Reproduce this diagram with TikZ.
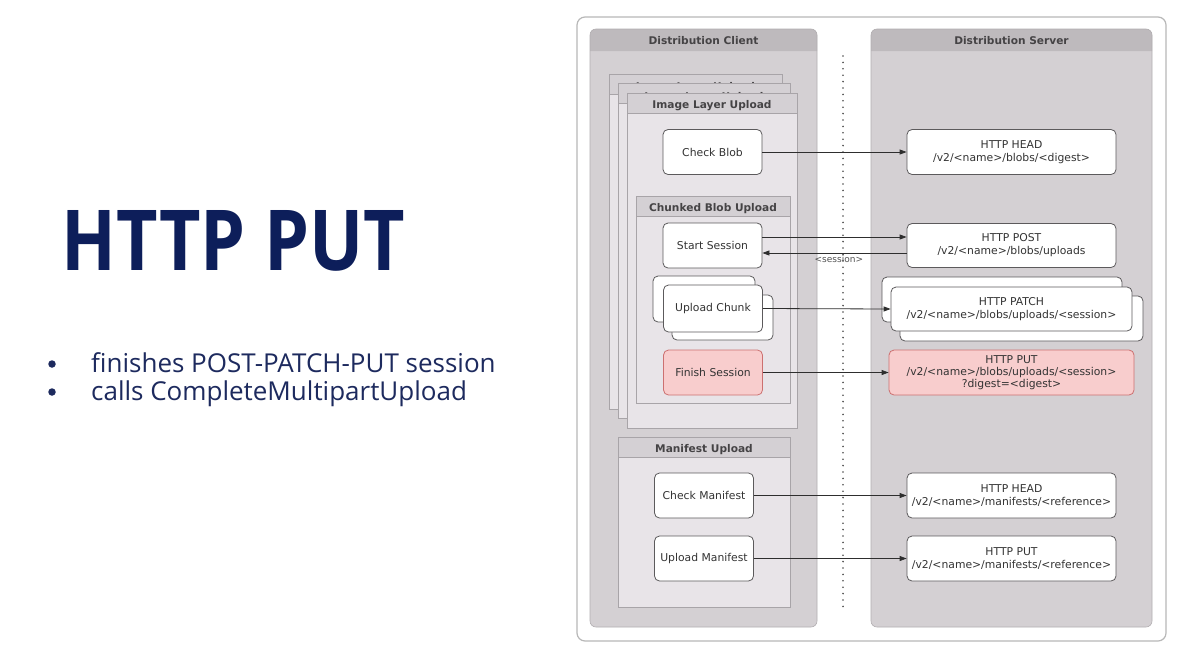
\documentclass[tikz,border=0pt]{standalone}
\usepackage{fontspec}
\usepackage{graphicx}
\setmainfont{DejaVu Sans}
\newfontfamily\slidefont{Open Sans}
\usetikzlibrary{arrows.meta}

\definecolor{navy}{HTML}{0D1E5A}
\definecolor{bultxt}{HTML}{1D2A5E}
\definecolor{outerline}{HTML}{B8B8B8}
\definecolor{lanebody}{HTML}{D4D0D3}
\definecolor{lanehead}{HTML}{BEBABD}
\definecolor{laneline}{HTML}{B2AEB1}
\definecolor{frbody}{HTML}{E8E4E8}
\definecolor{frhead}{HTML}{D4D0D4}
\definecolor{frline}{HTML}{A8A4A8}
\definecolor{boxline}{HTML}{5C5A5C}
\definecolor{txt}{HTML}{333333}
\definecolor{headtxt}{HTML}{454345}
\definecolor{pinkfill}{HTML}{F8CDCD}
\definecolor{pinkline}{HTML}{CC7070}
\definecolor{linec}{HTML}{2E2E2E}

\tikzset{
  box/.style={draw=boxline, fill=white, rounded corners=5pt, line width=0.8pt,
    minimum width=99pt, minimum height=45pt, inner sep=0pt, align=center,
    text=txt, font=\fontsize{10.8}{12.8}\selectfont},
  srvbox/.style={box, minimum width=209pt},
  redbox/.style={fill=pinkfill, draw=pinkline},
  conn/.style={draw=linec, line width=0.8pt, -{Triangle[length=7pt,width=5pt]}},
  framebody/.style={fill=frbody, draw=frline, line width=0.8pt},
  framehead/.style={fill=frhead, draw=frline, line width=0.8pt},
  headtext/.style={font=\bfseries\fontsize{10.6}{12}\selectfont, text=headtxt, inner sep=0pt},
  bulletdot/.style={circle, fill=bultxt, inner sep=0pt, minimum size=7.5pt},
  bullettext/.style={anchor=base west, inner sep=0pt, text=bultxt,
    font=\slidefont\fontsize{26}{30}\selectfont},
}

% group frame with a title band: [title baseline offset] x1, y1, x2, y2, title, node name
\newcommand{\groupframe}[7][15]{%
  \draw[framebody] (#2,#3) rectangle (#4,#5);
  \draw[framehead] (#2,#3) rectangle (#4,#3+20);
  \node[headtext, anchor=base] (#7) at ({(#2+#4)/2},#3+#1) {#6};
}

% swimlane: x1, y1, x2, y2, title, node name
\newcommand{\swimlane}[6]{%
  \fill[lanebody, rounded corners=6pt] (#1,#2) rectangle (#3,#4);
  \fill[lanehead] (#1,#2+22) {[rounded corners=6pt] -- (#1,#2) -- (#3,#2)} -- (#3,#2+22) -- cycle;
  \draw[laneline, line width=0.6pt, rounded corners=6pt] (#1,#2) rectangle (#3,#4);
  \node[headtext, anchor=base] (#6) at ({(#1+#3)/2},#2+15) {#5};
}

\begin{document}
\begin{tikzpicture}[x=1pt, y=-1pt]
\useasboundingbox (0,0) rectangle (1198,667);
\fill[white] (0,0) rectangle (1198,667);

% ---- slide text ----
\node[anchor=base west, inner sep=0pt, text=navy] (title) at (61,270)
  {\resizebox{344pt}{60pt}{\slidefont\bfseries HTTP PUT}};
\node[bulletdot] (dot1) at (52,364) {};
\node[bulletdot] (dot2) at (52,392) {};
\node[bullettext] (item1) at (91,372) {finishes POST-PATCH-PUT session};
\node[bullettext] (item2) at (91,400) {calls CompleteMultipartUpload};

% ---- diagram frame ----
\draw[outerline, fill=white, line width=1.2pt, rounded corners=8pt] (577,17) rectangle (1166,641);

\swimlane{590}{29}{817}{627}{Distribution Client}{client}
\swimlane{871}{29}{1152}{627}{Distribution Server}{server}

% boundary between client and server
\draw[linec!85, line width=1.8pt, line cap=round, dash pattern=on 0pt off 6.4pt] (843,56) -- (843,607);

% ---- image layer upload (stacked) ----
\groupframe[16.8]{609}{74}{782}{409}{Image Layer Upload}{layerC}
\groupframe[17.8]{618}{83}{790}{418}{Image Layer Upload}{layerB}
\groupframe{627}{93}{797}{428}{Image Layer Upload}{layerA}

\node[box] (checkblob) at (712.5,152) {Check Blob};

\groupframe{636}{196}{790}{403}{Chunked Blob Upload}{chunked}

\node[box] (startsess) at (712.5,245.5) {Start Session};
\node[box, minimum width=102pt, minimum height=46pt] (chunkback) at (704,299) {};
\node[box, minimum width=101pt, minimum height=45pt] (chunkfront3) at (722.5,317.5) {};
\node[box, minimum height=47pt] (chunk) at (713,308.5) {Upload Chunk};
\node[box, redbox] (finish) at (713,372.5) {Finish Session};

% ---- manifest upload ----
\groupframe{618}{437}{790}{607}{Manifest Upload}{manifest}
\node[box] (checkman) at (704,495.5) {Check Manifest};
\node[box] (uploadman) at (704,558.5) {Upload Manifest};

% ---- server endpoints ----
\node[srvbox] (headblob) at (1011.5,152) {HTTP HEAD\\/v2/<name>/blobs/<digest>};
\node[srvbox, minimum height=44pt] (post) at (1011.5,245.5) {HTTP POST\\/v2/<name>/blobs/uploads};
\node[srvbox, minimum width=240pt, minimum height=45pt] (patchback) at (1002,299.5) {};
\node[srvbox, minimum width=243pt, minimum height=45pt] (patch3) at (1021.5,318.5) {};
\node[srvbox, minimum width=241pt, minimum height=44pt] (patch) at (1011.5,309) {HTTP PATCH\\/v2/<name>/blobs/uploads/<session>};
\node[srvbox, redbox, minimum width=245pt, font=\fontsize{10.8}{12.2}\selectfont] (put) at (1011.5,372.5) {HTTP PUT\\/v2/<name>/blobs/uploads/<session>\\?digest=<digest>};
\node[srvbox] (headman) at (1011.5,495.5) {HTTP HEAD\\/v2/<name>/manifests/<reference>};
\node[srvbox] (putman) at (1011.5,558.5) {HTTP PUT\\/v2/<name>/manifests/<reference>};

% ---- requests and responses ----
\draw[conn] (checkblob.east) -- (headblob.west);
\draw[conn] ([yshift=8.5pt]startsess.east) -- ([yshift=8.5pt]post.west);
\draw[conn] ([yshift=-7.5pt]post.west) -- ([yshift=-7.5pt]startsess.east)
  node[pos=0.47, below=2pt, inner sep=0pt, text=txt!85, font=\fontsize{9}{10}\selectfont] (sesslabel) {<session>};
\draw[conn] (chunk.east) -- (patch.west);
\draw[conn] (finish.east) -- (put.west);
\draw[conn] (checkman.east) -- (headman.west);
\draw[conn] (uploadman.east) -- (putman.west);
\end{tikzpicture}
\end{document}
